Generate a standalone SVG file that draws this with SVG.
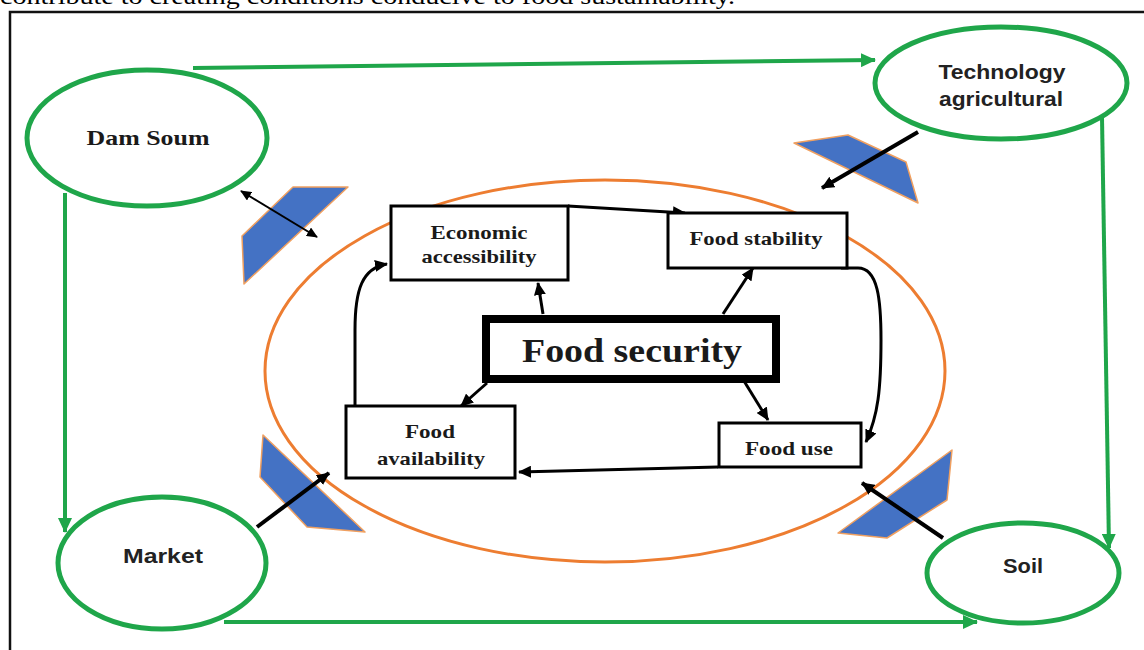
<svg xmlns="http://www.w3.org/2000/svg" width="1144" height="650" viewBox="0 0 1144 650">
<defs>
<style>
.frame{stroke:#111;stroke-width:2.5;fill:none}
.cap{font-family:"Liberation Serif",serif;font-size:24px;fill:#000}
.outer{fill:#fff;stroke:#1fa64a;stroke-width:5}
.gline{fill:none;stroke:#1fa64a;stroke-width:4}
.orange{fill:none;stroke:#ed7d31;stroke-width:3}
.trap{fill:#4472c4;stroke:#f0a060;stroke-width:1.5;stroke-linejoin:round}
.box{fill:#fff;stroke:#000;stroke-width:3}
.bigbox{fill:#fff;stroke:#000;stroke-width:8}
.serif{font-family:"Liberation Serif",serif;font-weight:bold;fill:#1a1a1a;text-anchor:middle}
.sans{font-family:"Liberation Sans",Arial,sans-serif;font-weight:bold;fill:#222;text-anchor:middle}
.bline{fill:none;stroke:#000;stroke-width:3}
.bthick{fill:none;stroke:#000;stroke-width:4}
.bthin{fill:none;stroke:#000;stroke-width:2}
</style>
<marker id="ga" markerUnits="userSpaceOnUse" markerWidth="16" markerHeight="14" refX="14" refY="7" orient="auto"><path d="M0,0 L15,7 L0,14 Z" fill="#1fa64a"/></marker>
<marker id="ba" markerUnits="userSpaceOnUse" markerWidth="14" markerHeight="12" refX="12" refY="6" orient="auto"><path d="M0,0 L13,6 L0,12 Z" fill="#000"/></marker>
<marker id="bs" markerUnits="userSpaceOnUse" markerWidth="12" markerHeight="10" refX="10" refY="5" orient="auto-start-reverse"><path d="M0,0 L11,5 L0,10 Z" fill="#000"/></marker>
</defs>
<rect width="1144" height="650" fill="#fff"/>
<text class="cap" x="0" y="4" textLength="735" lengthAdjust="spacingAndGlyphs">contribute to creating conditions conducive to food sustainability.</text>
<path class="frame" d="M10,650 L10,12 L1144,12"/>

<g id="food-system-ring">
<ellipse class="orange" cx="605" cy="371" rx="340" ry="191"/>
</g>
<g id="barriers">
<polygon class="trap" points="293,187 348,187 244,284 242,236"/>
<polygon class="trap" points="794,143 848,135 906,162 918,203"/>
<polygon class="trap" points="263,435 365,532 307,527 260,477"/>
<polygon class="trap" points="952,450 947,500 887,538 838,533"/>
</g>

<g id="connectors">
<path class="gline" d="M193,68 L875,60" marker-end="url(#ga)"/>
<path class="gline" d="M65,193 L65,532" marker-end="url(#ga)"/>
<path class="gline" d="M1102,117 L1109,548" marker-end="url(#ga)"/>
<path class="gline" d="M224,622 L977,622" marker-end="url(#ga)"/>
<path class="bthin" d="M241,191 L317,237" marker-start="url(#bs)" marker-end="url(#bs)"/>
<path class="bthick" d="M918,132 L822,188" marker-end="url(#ba)"/>
<path class="bthick" d="M257,527 L329,473" marker-end="url(#ba)"/>
<path class="bthick" d="M943,538 L862,483" marker-end="url(#ba)"/>
<path class="bline" d="M543,314 L538,283" marker-end="url(#ba)"/>
<path class="bline" d="M723,314 L753,268" marker-end="url(#ba)"/>
<path class="bline" d="M487,383 L461,406" marker-end="url(#ba)"/>
<path class="bline" d="M744,381 L768,420" marker-end="url(#ba)"/>
<path class="bline" d="M568,206 L685,213" marker-end="url(#ba)"/>
<path class="bline" d="M841,268 L858,268 C878,268 881,300 881,340 C881,390 878,415 866,442" marker-end="url(#ba)"/>
<path class="bline" d="M718,467 L519,472" marker-end="url(#ba)"/>
<path class="bline" d="M355,405 L355,330 C355,290 362,268 387,264" marker-end="url(#ba)"/>
</g>

<g id="dam-soum">
<ellipse class="outer" cx="147" cy="138" rx="120" ry="68"/>
<text class="serif" x="148" y="145" font-size="21" textLength="123" lengthAdjust="spacingAndGlyphs">Dam Soum</text>
</g>
<g id="technology-agricultural">
<ellipse class="outer" cx="1001" cy="83" rx="126" ry="56"/>
<text class="sans" x="1002" y="79" font-size="20" textLength="127" lengthAdjust="spacingAndGlyphs">Technology</text>
<text class="sans" x="1001" y="106" font-size="20" textLength="124" lengthAdjust="spacingAndGlyphs">agricultural</text>
</g>
<g id="market">
<ellipse class="outer" cx="162" cy="563" rx="104" ry="66"/>
<text class="sans" x="163" y="563" font-size="20" textLength="80" lengthAdjust="spacingAndGlyphs">Market</text>
</g>
<g id="soil">
<ellipse class="outer" cx="1023" cy="573" rx="96" ry="50"/>
<text class="sans" x="1023" y="573" font-size="20" textLength="40" lengthAdjust="spacingAndGlyphs">Soil</text>
</g>

<g id="economic-accessibility">
<rect class="box" x="391" y="206" width="177" height="74"/>
<text class="serif" x="479" y="239" font-size="19" textLength="97" lengthAdjust="spacingAndGlyphs">Economic</text>
<text class="serif" x="479" y="263" font-size="19" textLength="115" lengthAdjust="spacingAndGlyphs">accessibility</text>
</g>
<g id="food-stability">
<rect class="box" x="668" y="213" width="179" height="55"/>
<text class="serif" x="756" y="245" font-size="19" textLength="133" lengthAdjust="spacingAndGlyphs">Food stability</text>
</g>
<g id="food-security">
<rect class="bigbox" x="486" y="319" width="290" height="60"/>
<text class="serif" x="632" y="362" font-size="34" textLength="220" lengthAdjust="spacingAndGlyphs">Food security</text>
</g>
<g id="food-availability">
<rect class="box" x="346" y="406" width="169" height="72"/>
<text class="serif" x="430" y="438" font-size="19" textLength="50" lengthAdjust="spacingAndGlyphs">Food</text>
<text class="serif" x="431" y="465" font-size="19" textLength="108" lengthAdjust="spacingAndGlyphs">availability</text>
</g>
<g id="food-use">
<rect class="box" x="719" y="423" width="142" height="44"/>
<text class="serif" x="789" y="455" font-size="19" textLength="88" lengthAdjust="spacingAndGlyphs">Food use</text>
</g>
</svg>
